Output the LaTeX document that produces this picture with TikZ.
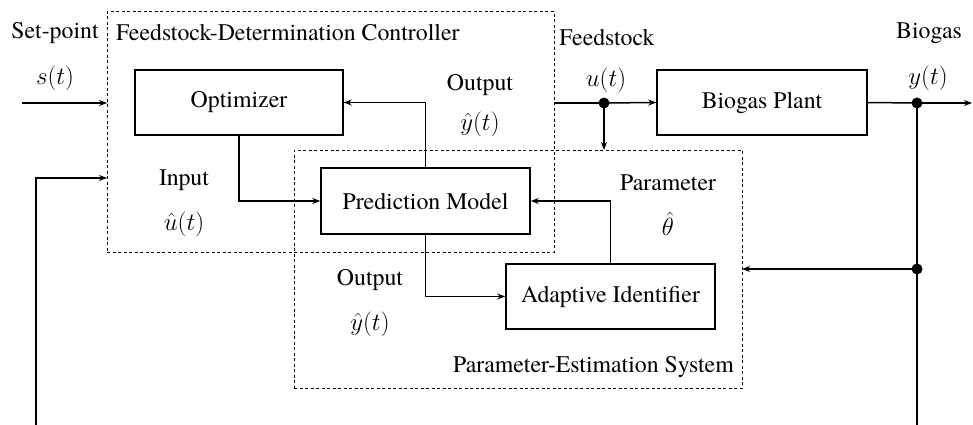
\documentclass[tikz,border=0pt]{standalone}
\usepackage{fontspec}
\setmainfont{TeX Gyre Termes}
\usetikzlibrary{arrows.meta}
\begin{document}
\begin{tikzpicture}[x=1pt,y=-1pt,
  txt/.style={font=\fontsize{23.8}{28}\selectfont, inner sep=1pt},
  blk/.style={draw, line width=1.5pt, minimum width=209pt, minimum height=65pt, inner sep=0pt, font=\fontsize{23.8}{28}\selectfont},
  grp/.style={draw, line width=1pt, dash pattern=on 3pt off 2.5pt, inner sep=0pt, outer sep=0pt},
  conn/.style={line width=1.5pt, -{Stealth[length=8pt,width=6pt]}},
  wire/.style={line width=1.5pt},
  dot/.style={circle, fill=black, minimum size=11pt, inner sep=0pt}]
\useasboundingbox (0,0) rectangle (973,425);
% group boxes
\node[grp, minimum width=447pt, minimum height=240pt] (ctrl) at (330.5,132) {};
\node[grp, minimum width=448pt, minimum height=238pt] (pes) at (518,269) {};
% blocks
\node[blk, minimum width=208pt] (opt) at (239,102.5) {Optimizer};
\node[blk, minimum width=210pt] (bp) at (762,102.5) {Biogas Plant};
\node[blk, minimum height=66pt] (pm) at (425.5,201) {Prediction Model};
\node[blk] (ai) at (610.5,296.5) {Adaptive Identifier};
% dots and free ends
\node[dot] (ud) at (604,103) {};
\node[dot] (yd) at (917,103) {};
\node[dot] (fd) at (917,269) {};
\coordinate (sin) at (22,103);
\coordinate (fbs) at (36,425);
\coordinate (yout) at (972,103);
\coordinate (ybot) at (917,425);
% connectors
\draw[conn] (sin) -- (sin -| ctrl.west);
\draw[conn] (fbs) |- (ctrl.west |- 0,178);
\draw[conn] (opt.south) |- (pm.west);
\draw[conn] (pm.north) |- (opt.east);
\draw[wire] (ctrl.east |- ud) -- (ud.center);
\draw[conn] (ud.center) -- (bp.west);
\draw[conn] (ud.center) -- (ud |- pes.north);
\draw[wire] (bp.east) -- (yd.center);
\draw[conn] (yd.center) -- (yout);
\draw[wire] (yd.center) -- (ybot);
\draw[conn] (fd.center) -- (fd -| pes.east);
\draw[conn] (ai.north) |- (pm.east);
\draw[conn] (pm.south) |- (ai.west);
% labels
\node[txt] at (55,33) {Set-point};
\node[txt] at (55,78) {$s(t)$};
\node[txt, anchor=west] at (115,33) {Feedstock-Determination Controller};
\node[txt] at (480,85) {Output};
\node[txt] at (480,124) {$\hat{y}(t)$};
\node[txt] at (607,37) {Feedstock};
\node[txt] at (606,80) {$u(t)$};
\node[txt] at (929,33) {Biogas};
\node[txt] at (928,78) {$y(t)$};
\node[txt] at (184,180) {Input};
\node[txt] at (184,224) {$\hat{u}(t)$};
\node[txt] at (668,183) {Parameter};
\node[txt] at (668,224) {$\hat{\theta}$};
\node[txt] at (370,280) {Output};
\node[txt] at (370,324) {$\hat{y}(t)$};
\node[txt, anchor=east] at (735,367) {Parameter-Estimation System};
\end{tikzpicture}
\end{document}
